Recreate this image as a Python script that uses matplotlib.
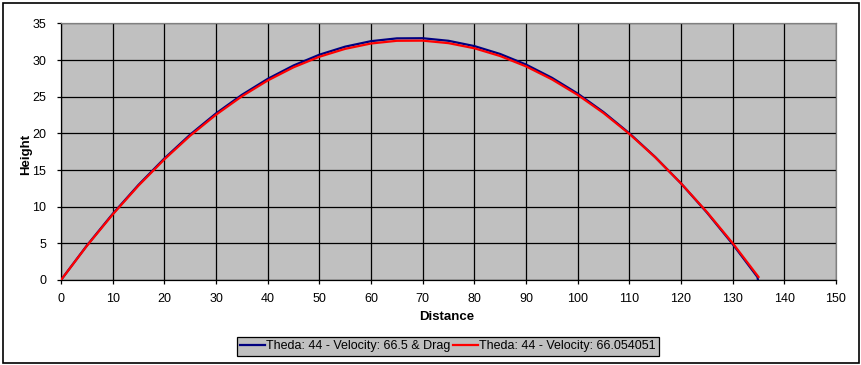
import matplotlib
matplotlib.use("Agg")
import matplotlib.pyplot as plt
from matplotlib.patches import Rectangle

plt.rcParams['font.family'] = ['Liberation Sans', 'DejaVu Sans']

# Data
dist_drag = [0, 5, 10, 15, 20, 25, 30, 35, 40, 45, 50, 55, 60, 65, 70, 75, 80, 85,
             90, 95, 100, 105, 110, 115, 120, 125, 130, 134.8, 134.9]
height_drag = [0, 4.70, 9.02, 12.98, 16.58, 19.84, 22.73, 25.26, 27.44, 29.27, 30.74,
               31.84, 32.59, 32.97, 32.99, 32.64, 31.92, 30.84, 29.40, 27.60, 25.44,
               22.91, 20.02, 16.78, 13.18, 9.22, 4.90, 0.40, 0.0]
dist_nodrag = [0, 5, 10, 15, 20, 25, 30, 35, 40, 45, 50, 55, 60, 65, 70, 75, 80, 85,
               90, 95, 100, 105, 110, 115, 120, 125, 130, 135]
height_nodrag = [0, 4.65, 8.94, 12.88, 16.46, 19.69, 22.55, 25.06, 27.22, 29.02, 30.46,
                 31.54, 32.27, 32.64, 32.66, 32.32, 31.62, 30.56, 29.15, 27.38, 25.26,
                 22.78, 19.94, 16.75, 13.19, 9.29, 5.03, 0.41]
labels = ["Theda: 44 - Velocity: 66.5 & Drag", "Theda: 44 - Velocity: 66.054051"]
x_ticks = list(range(0, 151, 10))
y_ticks = list(range(0, 36, 5))

W, H = 861, 365
fig = plt.figure(figsize=(W / 100, H / 100), dpi=100)
fig.patch.set_facecolor('white')

# chart border
fig.patches.append(Rectangle((2.5 / W, 2.5 / H), 856 / W, 360 / H, transform=fig.transFigure,
                             fill=False, edgecolor='black', linewidth=1.2))

ax = fig.add_axes([61 / W, 85 / H, 775 / W, 256.5 / H])
ax.set_facecolor('#C0C0C0')
ax.plot(dist_drag, height_drag, color='#000080', linewidth=1.6, label=labels[0], zorder=3)
ax.plot(dist_nodrag, height_nodrag, color='#FF0000', linewidth=1.6, label=labels[1], zorder=4)

ax.set_xlim(0, 150)
ax.set_ylim(0, 35)
ax.set_xticks(x_ticks)
ax.set_yticks(y_ticks)
ax.grid(True, color='black', linewidth=0.9)
ax.set_axisbelow(True)
ax.tick_params(axis='x', direction='out', length=3, width=0.9, labelsize=9, colors='black', pad=6.5)
ax.tick_params(axis='y', direction='out', length=3, width=0.9, labelsize=9, colors='black', pad=7.5)
for s in ['left', 'bottom']:
    ax.spines[s].set_color('black')
    ax.spines[s].set_linewidth(0.9)
for s in ['top', 'right']:
    ax.spines[s].set_color('#808080')
    ax.spines[s].set_linewidth(0.9)

fig.text(447 / W, 1 - 316.5 / H, 'Distance', fontsize=9.5, fontweight='bold',
         ha='center', va='center')
fig.text(26 / W, 1 - 154 / H, 'Height', fontsize=9.5, fontweight='bold',
         ha='center', va='center', rotation=90)

leg = fig.legend(loc='center', bbox_to_anchor=(448 / W, 1 - 346.5 / H), ncol=2,
                 fontsize=9, frameon=True, fancybox=False, handlelength=2.0,
                 handletextpad=0.1, columnspacing=0.2, borderpad=0.25, borderaxespad=0)
leg.get_frame().set_facecolor('#C0C0C0')
leg.get_frame().set_edgecolor('black')
leg.get_frame().set_linewidth(0.9)
leg.get_frame().set_alpha(1)

fig.savefig('out.png', dpi=100)
